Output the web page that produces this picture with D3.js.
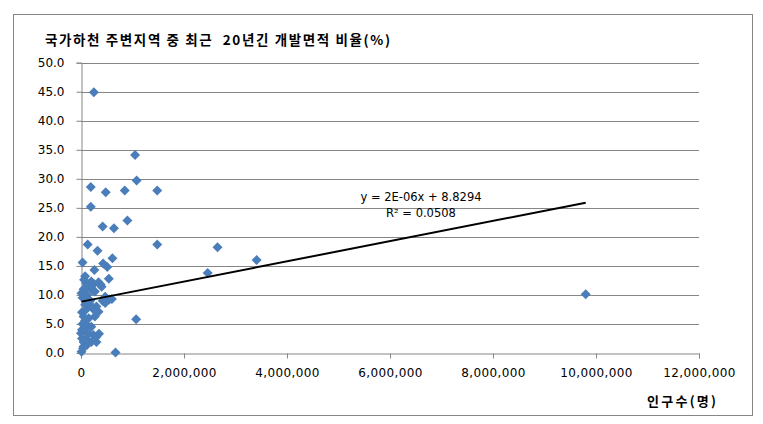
<!DOCTYPE html>
<html><head><meta charset="utf-8">
<script src="https://cdn.jsdelivr.net/npm/d3@7"></script>
<style>body{margin:0;background:#fff}svg{display:block}</style>
</head><body><svg id="c" width="763" height="424"></svg>
<script>
// population (millions) and development-area ratio (%)
const popM = [0.25,1.05,1.08,0.19,0.48,0.85,1.48,0.19,0.42,0.64,0.90,0.13,0.32,1.48,2.65,2.46,3.41,9.80,
  0.03,0.26,0.43,0.51,0.61,0.54,1.07,0.67,0.08,0.34,0.20,0.14,0.40,0.01,0.27,0.47,0.60,0.47,0.30,0.08,
  0.34,0.27,0.05,0.08,0.24,0.30,0.00,0.05,0.20,0.01,0.05,0.10,0.05,0.12,0.03,0.18,0.10,0.02,0.15,0.03,
  0.12,0.06,0.15,0.02,0.10,0.04,0.12,0.38,0.55,0.42,0.22,0.06,0.16,0.08,0.20,0.35,0.02,0.09,0.25,0.30,0.23];
const ratio = [44.9,34.1,29.7,28.6,27.7,28.0,28.0,25.2,21.8,21.5,22.8,18.7,17.6,18.7,18.2,13.8,16.0,10.1,
  15.6,14.3,15.4,14.8,16.3,12.8,5.8,0.1,13.2,12.2,12.3,11.4,11.4,10.3,10.6,9.7,9.3,8.6,8.0,8.3,
  7.1,6.3,6.3,4.3,3.1,2.8,3.4,1.9,1.9,0.2,1.1,12.0,11.0,10.0,9.5,9.0,7.5,7.0,6.0,5.0,
  4.8,3.8,3.3,2.5,2.4,0.8,1.4,11.8,9.2,9.0,10.8,12.6,8.5,5.6,4.5,3.3,4.0,9.8,11.9,1.9,7.6];
const xTicks = [0,2000000,4000000,6000000,8000000,10000000,12000000];
const yTicks = [0,5,10,15,20,25,30,35,40,45,50];
const trendSlope = 0.00000174, trendIntercept = 8.8294;
const trendRange = [10000, 9800000];
const title = "국가하천 주변지역 중 최근  20년긴 개발면적 비율(%)";
const xTitle = "인구수(명)";
const eq1 = "y = 2E-06x + 8.8294", eq2 = "R² = 0.0508";

const svg = d3.select("#c");
const L = 81, R = 699, T = 62.7, B = 353;
const x = d3.scaleLinear().domain([0,12000000]).range([L,R]);
const y = d3.scaleLinear().domain([0,50]).range([B,T]);
const grey = "#868686";

svg.append("rect").attr("x",13.5).attr("y",14.5).attr("width",739).attr("height",401)
  .attr("fill","#fff").attr("stroke",grey).attr("stroke-width",1);

// gridlines
svg.append("g").selectAll("line").data(yTicks.slice(1)).join("line")
  .attr("x1",L).attr("x2",R).attr("y1",d=>Math.round(y(d))+0.5).attr("y2",d=>Math.round(y(d))+0.5)
  .attr("stroke",grey).attr("stroke-width",1);

const font = "'DejaVu Sans', Verdana, sans-serif";
// y axis
const ya = svg.append("g").attr("transform",`translate(${L+0.5},0)`)
  .call(d3.axisLeft(y).tickValues(yTicks).tickFormat(d3.format(".1f")).tickSize(5).tickPadding(12));
// x axis
const xa = svg.append("g").attr("transform",`translate(0,${B+0.5})`)
  .call(d3.axisBottom(x).tickValues(xTicks).tickFormat(d3.format(",")).tickSize(5).tickPadding(10));
[ya,xa].forEach(a=>{
  a.select(".domain").attr("stroke",grey);
  a.selectAll(".tick line").attr("stroke",grey);
  a.selectAll("text").attr("fill","#000").style("font-family",font).style("font-size","12px");
});
xa.selectAll("text").style("letter-spacing","0.4px");
ya.selectAll(".tick").filter(d=>d===0).select("line").remove();

// points
const pts = popM.map((p,i)=>({p:p*1e6, r:ratio[i]}));
const s = 5;
svg.append("g").selectAll("path").data(pts).join("path")
  .attr("d",d=>{const cx=x(d.p), cy=y(d.r); return `M${cx},${cy-s}L${cx+s},${cy}L${cx},${cy+s}L${cx-s},${cy}Z`;})
  .attr("fill","#4a7ebb");

// trend line
svg.append("line")
  .attr("x1",x(trendRange[0])).attr("y1",y(trendSlope*trendRange[0]+trendIntercept))
  .attr("x2",x(trendRange[1])).attr("y2",y(trendSlope*trendRange[1]+trendIntercept))
  .attr("stroke","#000").attr("stroke-width",2);

// equation
svg.append("text").attr("x",421).attr("y",201).attr("text-anchor","middle")
  .style("font-family",font).style("font-size","11.5px").text(eq1);
svg.append("text").attr("x",421).attr("y",217).attr("text-anchor","middle")
  .style("font-family",font).style("font-size","11.5px").text(eq2);

// titles
svg.append("text").attr("x",45).attr("y",45).attr("textLength",345).attr("lengthAdjust","spacing")
  .style("white-space","pre")
  .style("font-family","'Noto Sans CJK KR', sans-serif").style("font-weight","bold").style("font-size","13.5px")
  .text(title);
svg.append("text").attr("x",647).attr("y",406).attr("textLength",69).attr("lengthAdjust","spacing")
  .style("font-family","'Noto Sans CJK KR', sans-serif").style("font-weight","bold").style("font-size","13px")
  .text(xTitle);
</script></body></html>
